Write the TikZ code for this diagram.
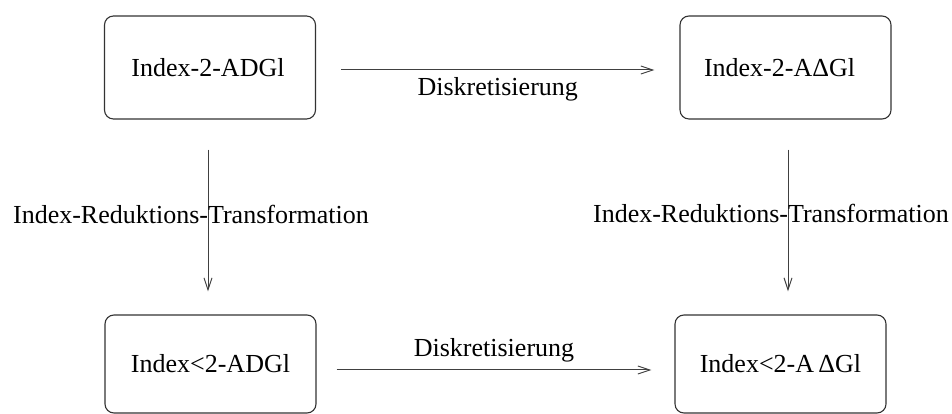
\documentclass[tikz,border=0pt]{standalone}
\usepackage{fontspec}
\setmainfont{Liberation Serif}
\usetikzlibrary{arrows.meta}
\begin{document}
\begin{tikzpicture}[x=1pt,y=1pt,
  box/.style={draw=black!80,line width=1.1pt,rounded corners=9pt,minimum width=211pt,inner sep=0pt,font=\fontsize{26}{30}\selectfont},
  arr/.style={draw=black!75,line width=1pt,-{Straight Barb[length=12pt,width=8pt,line width=1pt]}},
  lbl/.style={font=\fontsize{26}{30}\selectfont,inner sep=0pt}]
\useasboundingbox (0,0) rectangle (952,414);
\node[box,minimum height=103pt] (tl) at (210,346.5) {\hspace*{-4pt}Index-2-ADGl};
\node[box,minimum height=103pt] (tr) at (785.5,346.5) {\hspace*{-12pt}Index-2-AΔGl};
\node[box,minimum height=98pt] (bl) at (210.5,50) {\raisebox{-7.5pt}{Index<2-ADGl}};
\node[box,minimum height=98pt] (br) at (780.5,50) {\raisebox{-8pt}{Index<2-A\,ΔGl}};
\draw[arr] ([xshift=25pt,yshift=-2.5pt]tl.east) -- ([xshift=-25pt,yshift=-2.5pt]tr.west)
  node[lbl,midway,below=7pt] {Diskretisierung};
\draw[arr] ([xshift=20pt,yshift=-6pt]bl.east) -- ([xshift=-23pt,yshift=-6pt]br.west)
  node[lbl,midway,above=7pt] {Diskretisierung};
\draw[arr] ([xshift=-2pt,yshift=-30pt]tl.south) -- ([xshift=-2.5pt,yshift=23pt]bl.north)
  node[lbl,pos=0.46,xshift=-17pt] {Index-Reduktions-Transformation};
\draw[arr] ([xshift=2.5pt,yshift=-30pt]tr.south) -- ([xshift=7.5pt,yshift=23pt]br.north)
  node[lbl,pos=0.45,xshift=-17pt] {Index-Reduktions-Transformation};
\end{tikzpicture}
\end{document}
